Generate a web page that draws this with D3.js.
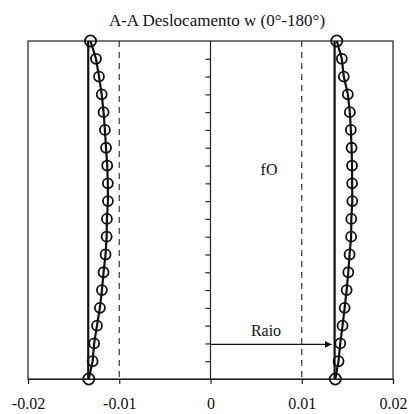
<!DOCTYPE html>
<html>
<head>
<meta charset="utf-8">
<script src="https://cdn.jsdelivr.net/npm/d3@7/dist/d3.min.js"></script>
<style>
  html, body { margin: 0; padding: 0; background: #fff; }
  svg { display: block; }
  text { font-family: "Liberation Serif", "DejaVu Serif", serif; fill: #111; }
</style>
</head>
<body>
<svg id="chart" width="409" height="414"></svg>
<script>
// ---- data (listed from top of the section to the bottom) ----
const levels = [0,1,2,3,4,5,6,7,8,9,10,11,12,13,14,15,16,17,18,19];
const leftDisp = [-0.01315,-0.01255,-0.01222,-0.01192,-0.01172,-0.01157,-0.01145,-0.01132,-0.01125,-0.01124,
                  -0.01135,-0.01138,-0.01150,-0.01172,-0.01190,-0.01212,-0.01244,-0.01275,-0.01292,-0.01334];
const rightDisp = [0.01384,0.01439,0.01461,0.01505,0.01527,0.01538,0.01546,0.01551,0.01552,0.01554,
                   0.01543,0.01541,0.01524,0.01510,0.01492,0.01470,0.01447,0.01422,0.01403,0.01368];
const originalLeft = -0.0134;
const originalRight = 0.0136;
const refDashed = [-0.01, 0.01];
const xTicks = [-0.02, -0.01, 0, 0.01, 0.02];
const xTickLabels = ["-0.02", "-0.01", "0", "0.01", "0.02"];
const title = "A-A Deslocamento w (0\u00B0-180\u00B0)";
const arrowLabel = "Raio";
const arrowLevel = 17;
const noteLabel = "fO";

// ---- layout ----
const svg = d3.select("#chart");
const L = 28, R = 393, T = 41, B = 379;
const x = d3.scaleLinear().domain([-0.02, 0.02]).range([L, R]);
const y = d3.scaleLinear().domain([0, 19]).range([T, B]);

svg.append("defs").append("marker")
  .attr("id", "arrow").attr("viewBox", "0 0 10 10")
  .attr("refX", 10).attr("refY", 5)
  .attr("markerWidth", 7).attr("markerHeight", 7)
  .attr("markerUnits", "userSpaceOnUse")
  .attr("orient", "auto")
  .append("path").attr("d", "M0,0 L10,5 L0,10 Z").attr("fill", "#111");

// frame
svg.append("rect").attr("x", L).attr("y", T).attr("width", R - L).attr("height", B - T)
  .attr("fill", "none").attr("stroke", "#222").attr("stroke-width", 1.2);

// title
svg.append("text").attr("x", 217).attr("y", 25.5).attr("text-anchor", "middle")
  .style("font-size", "17px").text(title);

// x axis
const xAxis = d3.axisBottom(x).tickValues(xTicks)
  .tickFormat((d, i) => xTickLabels[i]).tickSize(5).tickPadding(14);
const gx = svg.append("g").attr("transform", `translate(0,${B})`).call(xAxis);
gx.select(".domain").attr("stroke", "#222").attr("stroke-width", 1.2);
gx.selectAll(".tick line").attr("stroke", "#222").attr("stroke-width", 1.2);
gx.selectAll(".tick text").style("font-size", "16px").attr("fill", "#111")
  .attr("font-family", "Liberation Serif, serif");

// center axis with ticks on its left
const yAxis = d3.axisLeft(y).tickValues(levels.slice(1, -1)).tickSize(5).tickFormat("");
const gy = svg.append("g").attr("transform", `translate(${x(0)},0)`).call(yAxis);
gy.select(".domain").attr("stroke", "#222").attr("stroke-width", 1.2)
  .attr("d", `M0,${T}V${B}`);
gy.selectAll(".tick line").attr("stroke", "#222").attr("stroke-width", 1.2);

// dashed reference lines
svg.selectAll(".dash").data(refDashed).enter().append("line")
  .attr("x1", d => x(d)).attr("x2", d => x(d)).attr("y1", T).attr("y2", B)
  .attr("stroke", "#333").attr("stroke-width", 1.2).attr("stroke-dasharray", "6,5");

// original (undeformed) walls
svg.selectAll(".orig").data([originalLeft, originalRight]).enter().append("line")
  .attr("x1", d => x(d)).attr("x2", d => x(d)).attr("y1", T).attr("y2", B)
  .attr("stroke", "#111").attr("stroke-width", 2.2);

// deformed shapes
const line = d3.line().x(d => x(d[0])).y(d => y(d[1]));
[leftDisp, rightDisp].forEach(series => {
  const pts = series.map((v, i) => [v, levels[i]]);
  svg.append("path").datum(pts).attr("d", line)
    .attr("fill", "none").attr("stroke", "#111").attr("stroke-width", 2.2);
  svg.append("g").selectAll("circle").data(pts).enter().append("circle")
    .attr("cx", d => x(d[0])).attr("cy", d => y(d[1]))
    .attr("r", (d, i) => (i === 0 || i === pts.length - 1) ? 5.6 : 5.0)
    .attr("fill", "none").attr("stroke", "#111").attr("stroke-width", 1.8);
});

// radius arrow
svg.append("line").attr("x1", x(0)).attr("x2", x(originalRight) - 3)
  .attr("y1", y(arrowLevel) + 1).attr("y2", y(arrowLevel) + 1)
  .attr("stroke", "#111").attr("stroke-width", 1.4).attr("marker-end", "url(#arrow)");
svg.append("text").attr("x", 266).attr("y", 336).attr("text-anchor", "middle")
  .style("font-size", "16px").text(arrowLabel);

// stray annotation
svg.append("text").attr("x", 269).attr("y", 175).attr("text-anchor", "middle")
  .style("font-size", "16px").text(noteLabel);
</script>
</body>
</html>
